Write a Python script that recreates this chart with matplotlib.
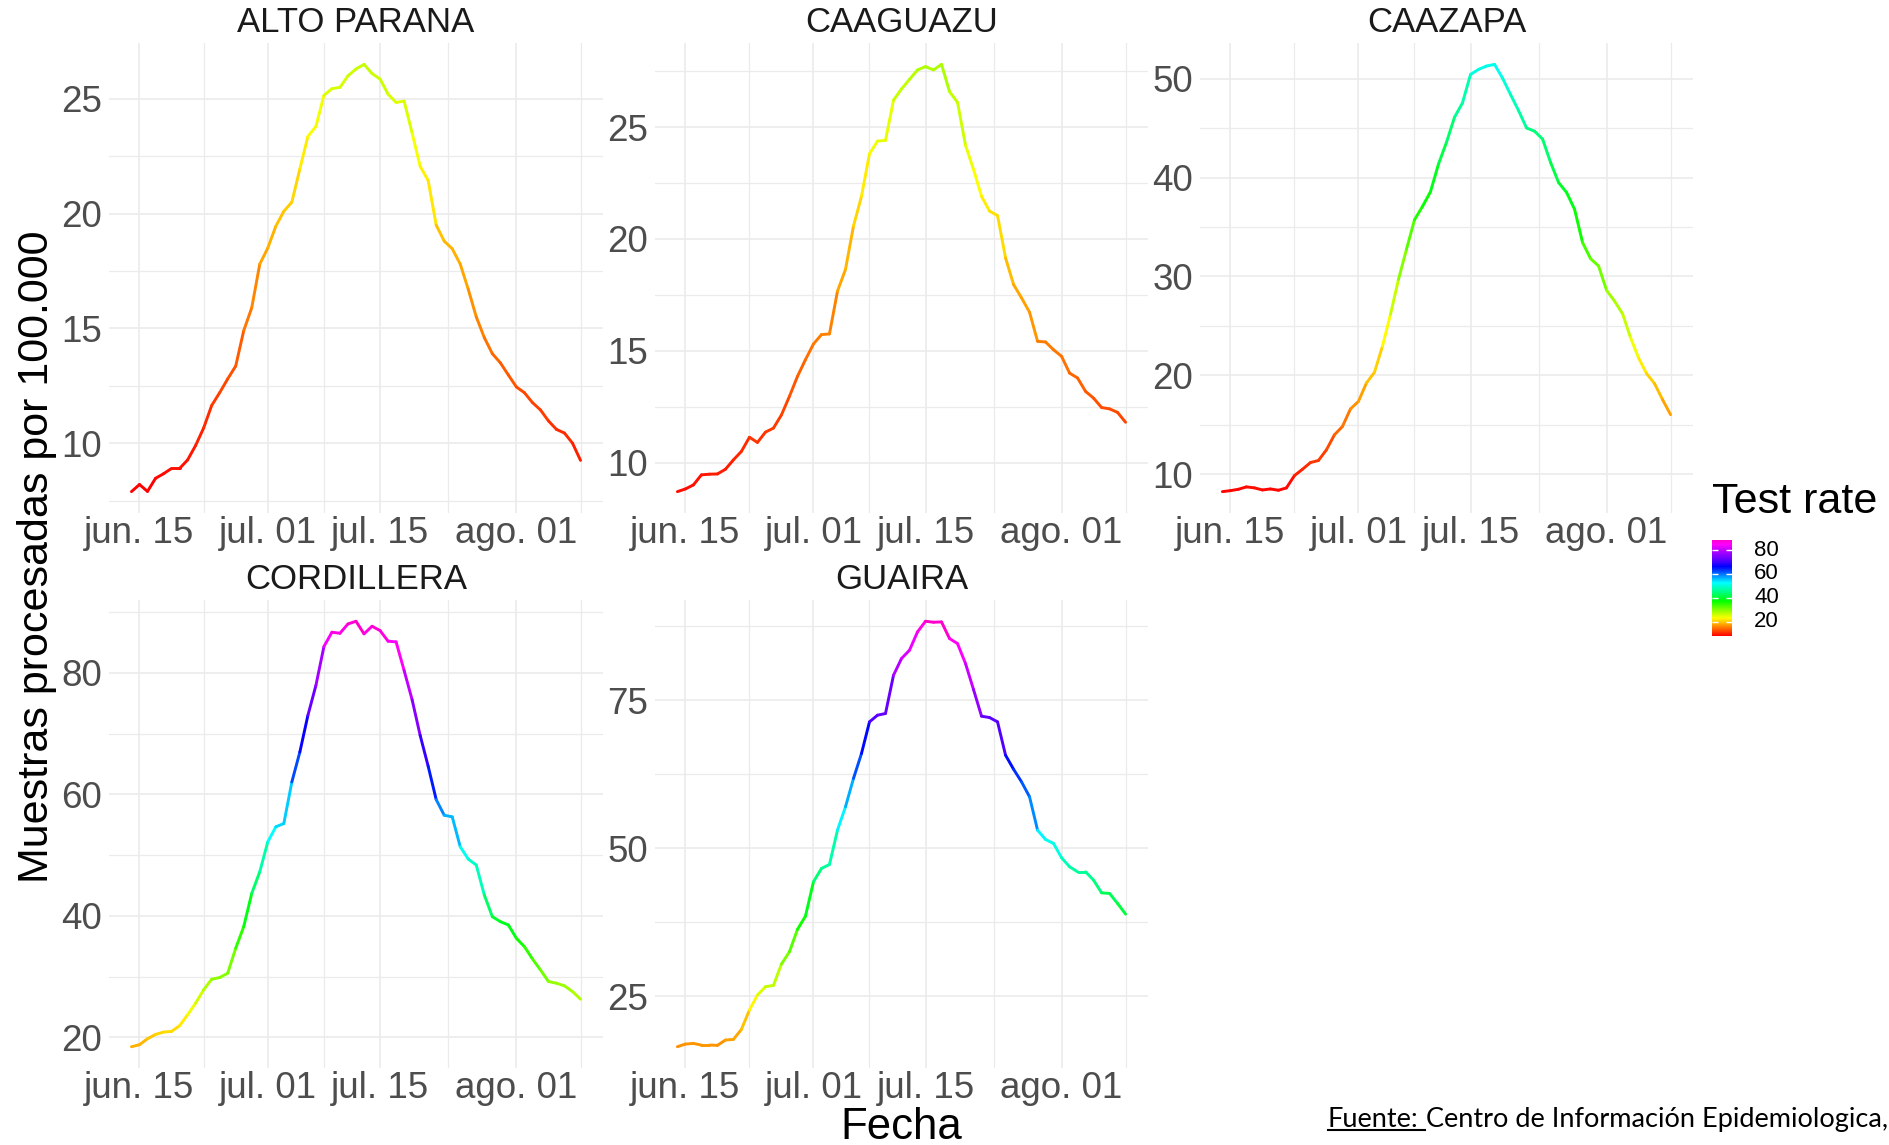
import numpy as np
import pandas as pd
import matplotlib
matplotlib.use("Agg")
import matplotlib.pyplot as plt
import matplotlib.dates as mdates
from matplotlib.collections import LineCollection
from matplotlib.colors import ListedColormap, Normalize, hsv_to_rgb
from matplotlib.ticker import MultipleLocator, FixedLocator
from matplotlib.lines import Line2D
import matplotlib.cm as cm

plt.rcParams['font.family'] = ['Liberation Sans', 'DejaVu Sans']

# ==========================
# Datos (muestras procesadas por 100.000, media movil)
# ==========================

fechas = pd.date_range("2020-06-14", "2020-08-09", freq="D")

alto_parana = [7.89, 8.2, 7.9, 8.47, 8.67, 8.9, 8.9, 9.27, 9.9, 10.66,
               11.64, 12.2, 12.8, 13.36, 14.9, 15.9, 17.8, 18.5, 19.45, 20.1,
               20.5, 21.95, 23.36, 23.8, 25.15, 25.44, 25.5, 26.0, 26.3, 26.5,
               26.1, 25.86, 25.2, 24.84, 24.9, 23.5, 22.06, 21.44, 19.5, 18.8,
               18.47, 17.8, 16.7, 15.5, 14.6, 13.9, 13.5, 12.97, 12.45, 12.2,
               11.77, 11.45, 10.97, 10.6, 10.44, 10.0, 9.25]

caaguazu = [8.7, 8.82, 9.0, 9.45, 9.48, 9.49, 9.7, 10.12, 10.5, 11.13,
            10.9, 11.36, 11.54, 12.13, 12.96, 13.85, 14.6, 15.3, 15.72, 15.75,
            17.66, 18.63, 20.57, 21.9, 23.8, 24.37, 24.4, 26.2, 26.7, 27.13,
            27.55, 27.7, 27.55, 27.8, 26.58, 26.1, 24.18, 23.1, 21.9, 21.24,
            21.04, 19.15, 17.96, 17.36, 16.72, 15.42, 15.39, 15.04, 14.75, 14.0,
            13.78, 13.18, 12.88, 12.46, 12.4, 12.24, 11.8]

caazapa = [8.24, 8.34, 8.48, 8.72, 8.62, 8.41, 8.51, 8.38, 8.62, 9.86,
           10.5, 11.18, 11.39, 12.47, 13.99, 14.83, 16.6, 17.37, 19.23, 20.31,
           22.95, 26.16, 29.7, 32.75, 35.73, 37.08, 38.57, 41.37, 43.57, 46.1,
           47.56, 50.43, 50.94, 51.28, 51.45, 50.06, 48.4, 46.78, 45.02, 44.69,
           43.9, 41.54, 39.5, 38.5, 36.8, 33.43, 31.8, 31.06, 28.6, 27.5,
           26.23, 23.8, 21.76, 20.18, 19.16, 17.54, 16.02]

cordillera = [18.47, 18.8, 19.78, 20.49, 20.88, 20.99, 21.92, 23.72, 25.64, 27.83,
              29.58, 29.85, 30.56, 34.67, 38.23, 43.7, 47.26, 52.18, 54.65, 55.19,
              62.03, 66.96, 72.98, 77.91, 84.31, 86.67, 86.5, 88.03, 88.47, 86.4,
              87.65, 86.94, 85.19, 85.08, 80.37, 75.55, 69.7, 64.61, 59.13, 56.56,
              56.29, 51.36, 49.34, 48.35, 43.43, 39.87, 39.05, 38.5, 36.31, 34.94,
              32.92, 31.11, 29.2, 28.92, 28.48, 27.55, 26.29]

guaira = [16.44, 16.89, 17.0, 16.72, 16.72, 16.67, 17.57, 17.68, 19.37, 22.64,
          25.17, 26.58, 26.8, 30.41, 32.49, 36.26, 38.51, 44.31, 46.57, 47.24,
          53.04, 56.98, 61.77, 65.99, 71.34, 72.47, 72.75, 79.22, 82.04, 83.45,
          86.54, 88.34, 88.18, 88.23, 85.42, 84.57, 81.19, 76.8, 72.3, 72.07,
          71.34, 65.71, 63.34, 61.2, 58.67, 53.04, 51.46, 50.79, 48.37, 46.85,
          46.0, 46.0, 44.59, 42.45, 42.34, 40.65, 38.85]

departamentos = ["ALTO PARANA", "CAAGUAZU", "CAAZAPA", "CORDILLERA", "GUAIRA"]
tasas = [alto_parana, caaguazu, caazapa, cordillera, guaira]
pasos_y = [5, 5, 10, 20, 25]

tick_fechas = ["2020-06-15", "2020-07-01", "2020-07-15", "2020-08-01"]
tick_labels = ["jun. 15", "jul. 01", "jul. 15", "ago. 01"]
ticks_leyenda = [20, 40, 60, 80]

# escala arcoiris: posicion en la barra -> tono (grados)
pos_tono = [0.0, 0.23, 0.37, 0.56, 0.70, 0.80, 0.90, 1.0]
tonos = [0, 74, 122, 182, 232, 263, 285, 312]

# ==========================
# Escala de color
# ==========================

t = np.linspace(0, 1, 256)
h = np.interp(t, pos_tono, tonos) / 360.0
cmap = ListedColormap(hsv_to_rgb(np.column_stack([h, np.ones_like(h), np.ones_like(h)])))

todos = np.concatenate([np.array(v) for v in tasas])
norm = Normalize(vmin=todos.min(), vmax=todos.max())

W, H = 1890, 1145
fig = plt.figure(figsize=(W / 100, H / 100), dpi=100)

# posiciones de paneles en pixeles (izq, arriba, ancho, alto)
cols = [(109, 494), (655, 493), (1200, 493)]
filas = [(43, 470), (600, 468)]

x = mdates.date2num(fechas)
x_rng = x[-1] - x[0]
major_x = mdates.date2num(pd.to_datetime(tick_fechas))
bd = major_x[1] - major_x[0]
ext = np.concatenate([[major_x[0] - bd], major_x, [major_x[-1] + bd]])
minor_x = (ext[:-1] + ext[1:]) / 2

gris_grid = "#EBEBEB"

for i, (nombre, vals) in enumerate(zip(departamentos, tasas)):
    c_left, c_w = cols[i % 3]
    f_top, f_h = filas[i // 3]
    ax = fig.add_axes([c_left / W, 1 - (f_top + f_h) / H, c_w / W, f_h / H])

    y = np.array(vals)
    pts = np.column_stack([x, y])
    segs = np.stack([pts[:-1], pts[1:]], axis=1)
    lc = LineCollection(segs, cmap=cmap, norm=norm, linewidths=2.1,
                        capstyle='round', joinstyle='round', zorder=3)
    lc.set_array(y[:-1])
    ax.add_collection(lc)

    y_rng = y.max() - y.min()
    ax.set_xlim(x[0] - 0.05 * x_rng, x[-1] + 0.05 * x_rng)
    ax.set_ylim(y.min() - 0.05 * y_rng, y.max() + 0.05 * y_rng)

    ax.xaxis.set_major_locator(FixedLocator(major_x))
    ax.xaxis.set_minor_locator(FixedLocator(minor_x))
    ax.set_xticklabels(tick_labels)
    ax.yaxis.set_major_locator(MultipleLocator(pasos_y[i]))
    ax.yaxis.set_minor_locator(MultipleLocator(pasos_y[i] / 2))

    ax.grid(which='major', color=gris_grid, linewidth=1.2)
    ax.grid(which='minor', color=gris_grid, linewidth=0.9)
    ax.set_axisbelow(True)
    for s in ax.spines.values():
        s.set_visible(False)
    ax.tick_params(which='both', length=0)
    ax.tick_params(axis='x', labelsize=26.5, labelcolor='#4D4D4D', pad=2)
    ax.tick_params(axis='y', labelsize=26.5, labelcolor='#4D4D4D', pad=5)
    ax.set_title(nombre, fontsize=25, color='#1A1A1A', pad=8)

# ==========================
# Etiquetas de ejes
# ==========================

fig.text(37 / W, 1 - 557 / H, "Muestras procesadas por 100.000", rotation=90,
         fontsize=31, ha='center', va='center')
fig.text(901 / W, 6 / H, "Fecha", fontsize=31.5, ha='center', va='baseline')

# ==========================
# Leyenda de color
# ==========================

fig.text(1712 / W, 1 - 513 / H, "Test rate", fontsize=31, va='baseline')
cax = fig.add_axes([1712 / W, 1 - 636 / H, 20 / W, 96 / H])
cb = fig.colorbar(cm.ScalarMappable(norm=norm, cmap=cmap), cax=cax, ticks=ticks_leyenda)
cb.outline.set_visible(False)
cax.tick_params(direction='in', length=4, width=1, color='white',
                left=True, right=True, labelsize=16, pad=16)
for lab in cax.get_yticklabels():
    lab.set_verticalalignment('center')

# ==========================
# Fuente
# ==========================

t1 = fig.text(1328 / W, 1 - 1127 / H, "Fuente:", family='Lato', fontsize=19.5, va='baseline')
fig.canvas.draw()
bb = t1.get_window_extent(renderer=fig.canvas.get_renderer())
fig.text(bb.x1 / W, 1 - 1127 / H, " Centro de Información Epidemiologica,",
         family='Lato', fontsize=19.5, va='baseline')
fig.add_artist(Line2D([bb.x0 / W, (bb.x1 + 6) / W], [(H - 1130) / H, (H - 1130) / H],
                      color='black', linewidth=1.5, transform=fig.transFigure))

fig.savefig("out.png", dpi=100)
